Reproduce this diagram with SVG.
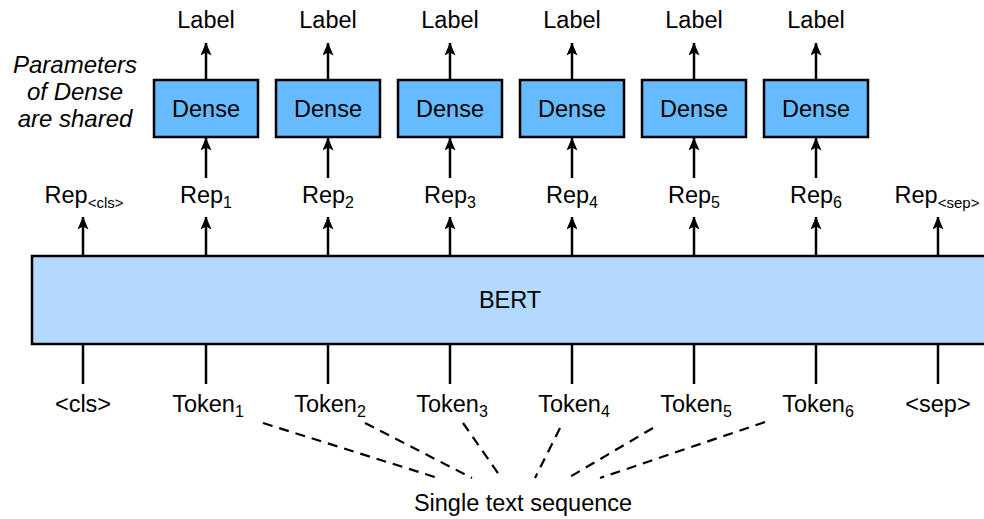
<svg xmlns="http://www.w3.org/2000/svg" width="984" height="519" viewBox="0 0 984 519">
<defs>
<marker id="ah" viewBox="0 0 13 11" refX="12.5" refY="5.5" markerWidth="13" markerHeight="11" markerUnits="userSpaceOnUse" orient="auto">
<path d="M0,0 L13,5.5 L0,11 L3,5.5 Z" fill="#000"/>
</marker>
<style>
text{font-family:"Liberation Sans",Arial,sans-serif;font-size:23.5px;fill:#000}
.it{font-style:italic;font-size:24px}
.sub{font-size:16px}
.ssub{font-size:15px}
.dense{fill:#66bbff;stroke:#000;stroke-width:2.5}
.bert{fill:#b3d9ff;stroke:#000;stroke-width:2.5}
.arr{stroke:#000;stroke-width:2.5;fill:none;marker-end:url(#ah)}
.ln{stroke:#000;stroke-width:2.5;fill:none}
.dash{stroke:#000;stroke-width:2.2;fill:none;stroke-dasharray:10 7}
</style>
</defs>
<rect width="984" height="519" fill="#fff"/>

<g id="bert">
<rect class="bert" x="32" y="256" width="970" height="88"/>
<text x="510" y="308" text-anchor="middle">BERT</text>
</g>

<g id="note">
<text class="it" x="75" y="73" text-anchor="middle">Parameters</text>
<text class="it" x="75" y="100" text-anchor="middle">of Dense</text>
<text class="it" x="75" y="127" text-anchor="middle">are shared</text>
</g>

<g id="dense1"><rect class="dense" x="154" y="80" width="104" height="57"/><text x="206" y="117" text-anchor="middle">Dense</text></g>
<g id="dense2"><rect class="dense" x="276" y="80" width="104" height="57"/><text x="328" y="117" text-anchor="middle">Dense</text></g>
<g id="dense3"><rect class="dense" x="398" y="80" width="104" height="57"/><text x="450" y="117" text-anchor="middle">Dense</text></g>
<g id="dense4"><rect class="dense" x="520" y="80" width="104" height="57"/><text x="572" y="117" text-anchor="middle">Dense</text></g>
<g id="dense5"><rect class="dense" x="642" y="80" width="104" height="57"/><text x="694" y="117" text-anchor="middle">Dense</text></g>
<g id="dense6"><rect class="dense" x="764" y="80" width="104" height="57"/><text x="816" y="117" text-anchor="middle">Dense</text></g>

<g id="labels">
<text x="206" y="28" text-anchor="middle">Label</text>
<text x="328" y="28" text-anchor="middle">Label</text>
<text x="450" y="28" text-anchor="middle">Label</text>
<text x="572" y="28" text-anchor="middle">Label</text>
<text x="694" y="28" text-anchor="middle">Label</text>
<text x="816" y="28" text-anchor="middle">Label</text>
</g>

<g id="reps">
<text x="84" y="203" text-anchor="middle">Rep<tspan class="ssub" dy="5">&lt;cls&gt;</tspan></text>
<text x="206" y="203" text-anchor="middle">Rep<tspan class="sub" dy="5">1</tspan></text>
<text x="328" y="203" text-anchor="middle">Rep<tspan class="sub" dy="5">2</tspan></text>
<text x="450" y="203" text-anchor="middle">Rep<tspan class="sub" dy="5">3</tspan></text>
<text x="572" y="203" text-anchor="middle">Rep<tspan class="sub" dy="5">4</tspan></text>
<text x="694" y="203" text-anchor="middle">Rep<tspan class="sub" dy="5">5</tspan></text>
<text x="816" y="203" text-anchor="middle">Rep<tspan class="sub" dy="5">6</tspan></text>
<text x="937" y="203" text-anchor="middle">Rep<tspan class="ssub" dy="5">&lt;sep&gt;</tspan></text>
</g>

<g id="tokens">
<text x="83" y="412" text-anchor="middle">&lt;cls&gt;</text>
<text x="208" y="412" text-anchor="middle">Token<tspan class="sub" dy="5">1</tspan></text>
<text x="330" y="412" text-anchor="middle">Token<tspan class="sub" dy="5">2</tspan></text>
<text x="452" y="412" text-anchor="middle">Token<tspan class="sub" dy="5">3</tspan></text>
<text x="574" y="412" text-anchor="middle">Token<tspan class="sub" dy="5">4</tspan></text>
<text x="696" y="412" text-anchor="middle">Token<tspan class="sub" dy="5">5</tspan></text>
<text x="818" y="412" text-anchor="middle">Token<tspan class="sub" dy="5">6</tspan></text>
<text x="938" y="412" text-anchor="middle">&lt;sep&gt;</text>
</g>

<g id="sequence">
<text x="523" y="511" text-anchor="middle">Single text sequence</text>
</g>

<g id="connectors">
<path class="arr" d="M206,80 V43"/>
<path class="arr" d="M328,80 V43"/>
<path class="arr" d="M450,80 V43"/>
<path class="arr" d="M572,80 V43"/>
<path class="arr" d="M694,80 V43"/>
<path class="arr" d="M816,80 V43"/>

<path class="arr" d="M206,178 V138"/>
<path class="arr" d="M328,178 V138"/>
<path class="arr" d="M450,178 V138"/>
<path class="arr" d="M572,178 V138"/>
<path class="arr" d="M694,178 V138"/>
<path class="arr" d="M816,178 V138"/>

<path class="arr" d="M83,256 V217"/>
<path class="arr" d="M206,256 V217"/>
<path class="arr" d="M328,256 V217"/>
<path class="arr" d="M450,256 V217"/>
<path class="arr" d="M572,256 V217"/>
<path class="arr" d="M694,256 V217"/>
<path class="arr" d="M816,256 V217"/>
<path class="arr" d="M938,256 V217"/>

<path class="ln" d="M83,344 V384"/>
<path class="ln" d="M206,344 V384"/>
<path class="ln" d="M328,344 V384"/>
<path class="ln" d="M450,344 V384"/>
<path class="ln" d="M572,344 V384"/>
<path class="ln" d="M694,344 V384"/>
<path class="ln" d="M816,344 V384"/>
<path class="ln" d="M938,344 V384"/>

<path class="dash" d="M263,423 L438,478"/>
<path class="dash" d="M365,423 L472,478"/>
<path class="dash" d="M463,423 L500,476"/>
<path class="dash" d="M560,428 L535,478"/>
<path class="dash" d="M653,428 L568,478"/>
<path class="dash" d="M765,422 L600,478"/>
</g>
</svg>
